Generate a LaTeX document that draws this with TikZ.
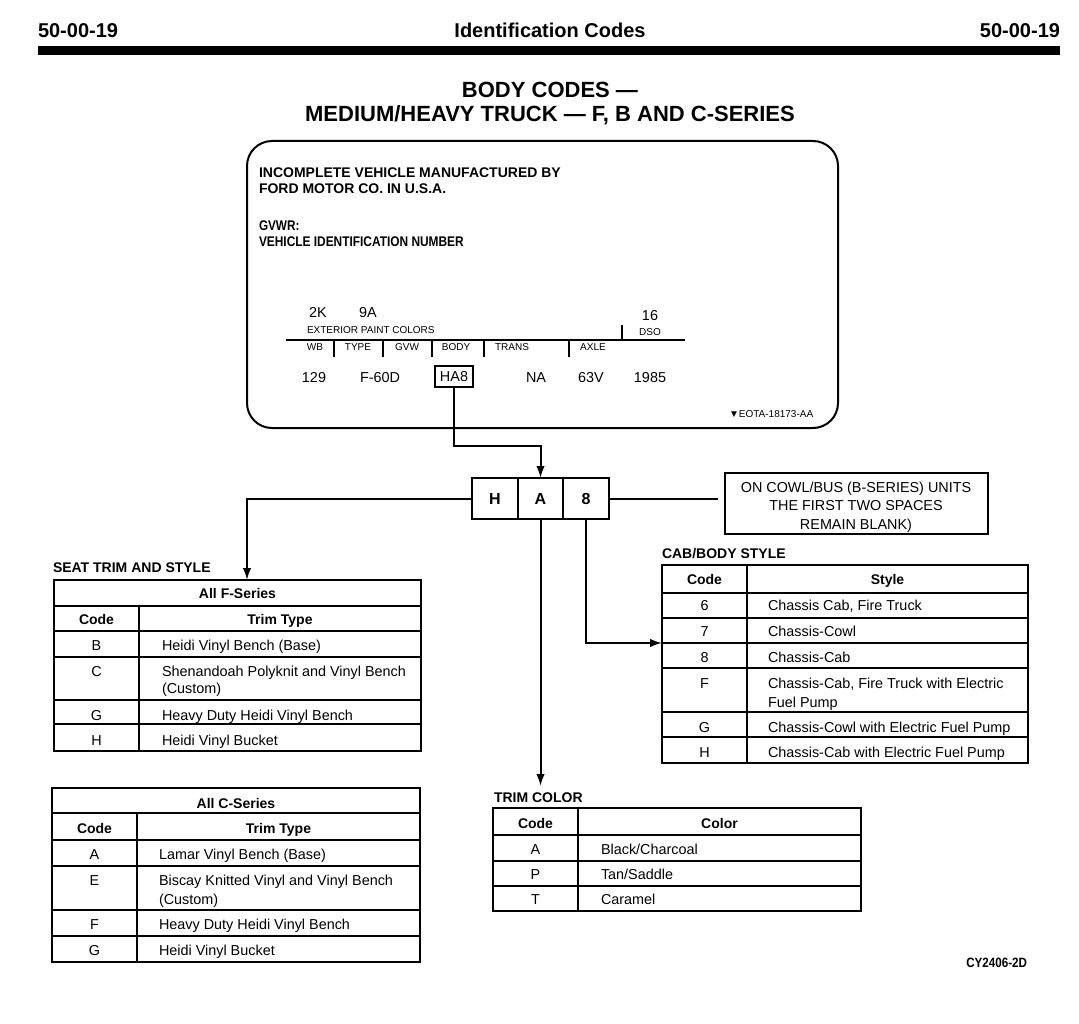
\documentclass[tikz,border=0pt]{standalone}
\usepackage{fontspec}
\setmainfont{Liberation Sans}
\usetikzlibrary{arrows.meta}
\newcommand{\sx}[2]{\scalebox{#1}[1]{#2}}
\begin{document}
\begin{tikzpicture}[x=1pt,y=-1pt,
  every node/.style={inner sep=0pt, outer sep=0pt},
  conn/.style={line width=2pt},
  arr/.style={conn, -{Latex[length=12pt,width=8.5pt]}},
  hdr/.style={font=\fontsize{20}{24}\selectfont\bfseries},
  ttl/.style={font=\fontsize{22}{26}\selectfont\bfseries},
  lbl/.style={font=\fontsize{14}{17}\selectfont\bfseries},
  txt/.style={font=\fontsize{14.4}{17}\selectfont},
  sml/.style={font=\fontsize{10}{12}\selectfont},
  tbl/.style={draw, line width=2.3pt, anchor=north west},
  row/.style={line width=1.6pt},
  codebox/.style={draw, line width=2pt, minimum height=41pt, font=\fontsize{16}{19}\selectfont\bfseries},
]
\useasboundingbox (0,0) rectangle (1079,1024);

% header
\node[hdr, anchor=base west] (pgl) at (38,38) {50-00-19};
\node[hdr, anchor=base] (pgt) at (550,38) {Identification Codes};
\node[hdr, anchor=base east] (pgr) at (1060,38) {50-00-19};
\fill (38,46) rectangle (1060,55);

% title
\node[ttl, anchor=base] (t1) at (550,98) {BODY CODES —};
\node[ttl, anchor=base] (t2) at (550,122) {MEDIUM/HEAVY TRUCK — F, B AND C-SERIES};

% plate
\node[draw, line width=2pt, rounded corners=25pt, minimum width=591pt, minimum height=287pt] (plate) at (542.5,284.5) {};
\node[lbl, anchor=base west] (p1) at (259,178) {INCOMPLETE VEHICLE MANUFACTURED BY};
\node[lbl, anchor=base west] (p2) at (259,194) {FORD MOTOR CO. IN U.S.A.};
\node[lbl, anchor=base west] (p3) at (259,231) {\sx{0.84}{GVWR:}};
\node[lbl, anchor=base west] (p4) at (259,247) {\sx{0.85}{VEHICLE IDENTIFICATION NUMBER}};

\node[txt, anchor=base] (c2k) at (318,318) {2K};
\node[txt, anchor=base] (c9a) at (368,318) {9A};
\node[txt, anchor=base] (c16) at (650,320) {16};
\node[sml, anchor=base west] (epc) at (307,334) {EXTERIOR PAINT COLORS};
\node[sml, anchor=base] (dso) at (650,335) {DSO};
\draw[conn] (286,340) -- (685,340);
\draw[conn] (622,325) -- (622,340);
\foreach \x in {334,383,431.5,484,569} \draw[conn] (\x,340) -- (\x,357);
\node[sml, anchor=base] (lwb) at (315,350) {WB};
\node[sml, anchor=base] (ltype) at (358,350) {TYPE};
\node[sml, anchor=base] (lgvw) at (407,350) {GVW};
\node[sml, anchor=base] (lbody) at (456,350) {BODY};
\node[sml, anchor=base] (ltrans) at (512,350) {TRANS};
\node[sml, anchor=base] (laxle) at (593,350) {AXLE};

\node[txt, anchor=base] (v129) at (314,382) {129};
\node[txt, anchor=base] (vf60) at (380,382) {F-60D};
\node[txt, draw, line width=1.8pt, minimum width=38pt, minimum height=21pt] (ha8) at (454,376.5) {HA8};
\node[txt, anchor=base] (vna) at (536,382) {NA};
\node[txt, anchor=base] (v63v) at (591,382) {63V};
\node[txt, anchor=base] (v1985) at (650,382) {1985};
\node[sml, anchor=base west] (eota) at (729,417) {▼EOTA-18173-AA};

% code boxes
\node[codebox, minimum width=46pt] (H) at (495,498.5) {H};
\node[codebox, minimum width=45pt] (A) at (540.5,498.5) {A};
\node[codebox, minimum width=46pt] (eight) at (586,498.5) {8};

% note
\node[draw, line width=2pt, minimum width=263pt, minimum height=61pt] (note) at (856.5,503.5) {};
\node[txt, anchor=base] (n1) at (856,492) {ON COWL/BUS (B-SERIES) UNITS};
\node[txt, anchor=base] (n2) at (856,510) {THE FIRST TWO SPACES};
\node[txt, anchor=base] (n3) at (856,529) {REMAIN BLANK)};

% connectors
\coordinate (bend) at (540.5,446);
\draw[arr] (ha8.south) |- (bend) -- (A.north);
\coordinate (seatin) at (247,580);
\draw[arr] (H.west) -| (seatin);
\coordinate (tcin) at (540.5,786);
\draw[arr] (A.south) -- (tcin);
\coordinate (cabin) at (662,643);
\draw[arr] (eight.south) |- (cabin);
\draw[conn, shorten >=7pt] (eight.east) -- (eight.east -| note.west);

% seat trim F-series
\node[lbl, anchor=base west] (seatlbl) at (53,572) {SEAT TRIM AND STYLE};
\node[tbl, minimum width=367pt, minimum height=171pt] (seat) at (54,580) {};
\foreach \y in {606,631,657,700,724} \draw[row] (54,\y) -- (421,\y);
\draw[row] (139,606) -- (139,751);
\node[lbl, anchor=base] (fs0) at (237.5,598) {All F-Series};
\node[lbl, anchor=base] (fs1) at (96.5,624) {Code};
\node[lbl, anchor=base] (fs2) at (280,624) {Trim Type};
\node[txt, anchor=base] (fb) at (96.5,650) {B};
\node[txt, anchor=base west] (fbt) at (162,650) {Heidi Vinyl Bench (Base)};
\node[txt, anchor=base] (fc) at (96.5,676) {C};
\node[txt, anchor=base west] (fct) at (162,676) {Shenandoah Polyknit and Vinyl Bench};
\node[txt, anchor=base west] (fct2) at (162,693) {(Custom)};
\node[txt, anchor=base] (fg) at (96.5,720) {G};
\node[txt, anchor=base west] (fgt) at (162,720) {Heavy Duty Heidi Vinyl Bench};
\node[txt, anchor=base] (fh) at (96.5,745) {H};
\node[txt, anchor=base west] (fht) at (162,745) {Heidi Vinyl Bucket};

% seat trim C-series
\node[tbl, minimum width=368pt, minimum height=174pt] (cser) at (52,788) {};
\foreach \y in {813,840,866,910,936} \draw[row] (52,\y) -- (420,\y);
\draw[row] (137,813) -- (137,962);
\node[lbl, anchor=base] (cs0) at (236,808) {All C-Series};
\node[lbl, anchor=base] (cs1) at (94.5,833) {Code};
\node[lbl, anchor=base] (cs2) at (278.5,833) {Trim Type};
\node[txt, anchor=base] (ca) at (94.5,859) {A};
\node[txt, anchor=base west] (cat) at (159,859) {Lamar Vinyl Bench (Base)};
\node[txt, anchor=base] (ce) at (94.5,885) {E};
\node[txt, anchor=base west] (cet) at (159,885) {Biscay Knitted Vinyl and Vinyl Bench};
\node[txt, anchor=base west] (cet2) at (159,904) {(Custom)};
\node[txt, anchor=base] (cf) at (94.5,929) {F};
\node[txt, anchor=base west] (cft) at (159,929) {Heavy Duty Heidi Vinyl Bench};
\node[txt, anchor=base] (cg) at (94.5,955) {G};
\node[txt, anchor=base west] (cgt) at (159,955) {Heidi Vinyl Bucket};

% cab/body style
\node[lbl, anchor=base west] (cablbl) at (662,558) {CAB/BODY STYLE};
\node[tbl, minimum width=366pt, minimum height=198pt] (cab) at (662,565) {};
\foreach \y in {593,618,643,668,712,737} \draw[row] (662,\y) -- (1028,\y);
\draw[row] (747,565) -- (747,763);
\node[lbl, anchor=base] (bs1) at (704.5,584) {Code};
\node[lbl, anchor=base] (bs2) at (887.5,584) {Style};
\node[txt, anchor=base] (b6) at (704.5,610) {6};
\node[txt, anchor=base west] (b6t) at (768,610) {Chassis Cab, Fire Truck};
\node[txt, anchor=base] (b7) at (704.5,636) {7};
\node[txt, anchor=base west] (b7t) at (768,636) {Chassis-Cowl};
\node[txt, anchor=base] (b8) at (704.5,662) {8};
\node[txt, anchor=base west] (b8t) at (768,662) {Chassis-Cab};
\node[txt, anchor=base] (bf) at (704.5,688) {F};
\node[txt, anchor=base west] (bft) at (768,688) {Chassis-Cab, Fire Truck with Electric};
\node[txt, anchor=base west] (bft2) at (768,707) {Fuel Pump};
\node[txt, anchor=base] (bg) at (704.5,732) {G};
\node[txt, anchor=base west] (bgt) at (768,732) {Chassis-Cowl with Electric Fuel Pump};
\node[txt, anchor=base] (bh) at (704.5,757) {H};
\node[txt, anchor=base west] (bht) at (768,757) {Chassis-Cab with Electric Fuel Pump};

% trim color
\node[lbl, anchor=base west] (tclbl) at (494,802) {TRIM COLOR};
\node[tbl, minimum width=368pt, minimum height=103pt] (tc) at (493,808) {};
\foreach \y in {835,861,886} \draw[row] (493,\y) -- (861,\y);
\draw[row] (578,808) -- (578,911);
\node[lbl, anchor=base] (tc1) at (535.5,828) {Code};
\node[lbl, anchor=base] (tc2) at (719.5,828) {Color};
\node[txt, anchor=base] (ta) at (535.5,854) {A};
\node[txt, anchor=base west] (tat) at (601,854) {Black/Charcoal};
\node[txt, anchor=base] (tp) at (535.5,879) {P};
\node[txt, anchor=base west] (tpt) at (601,879) {Tan/Saddle};
\node[txt, anchor=base] (tt) at (535.5,904) {T};
\node[txt, anchor=base west] (ttt) at (601,904) {Caramel};

% footer
\node[font=\fontsize{13.5}{16}\selectfont\bfseries, anchor=base east] (foot) at (1027,967) {\sx{0.86}{CY2406-2D}};
\end{tikzpicture}
\end{document}
